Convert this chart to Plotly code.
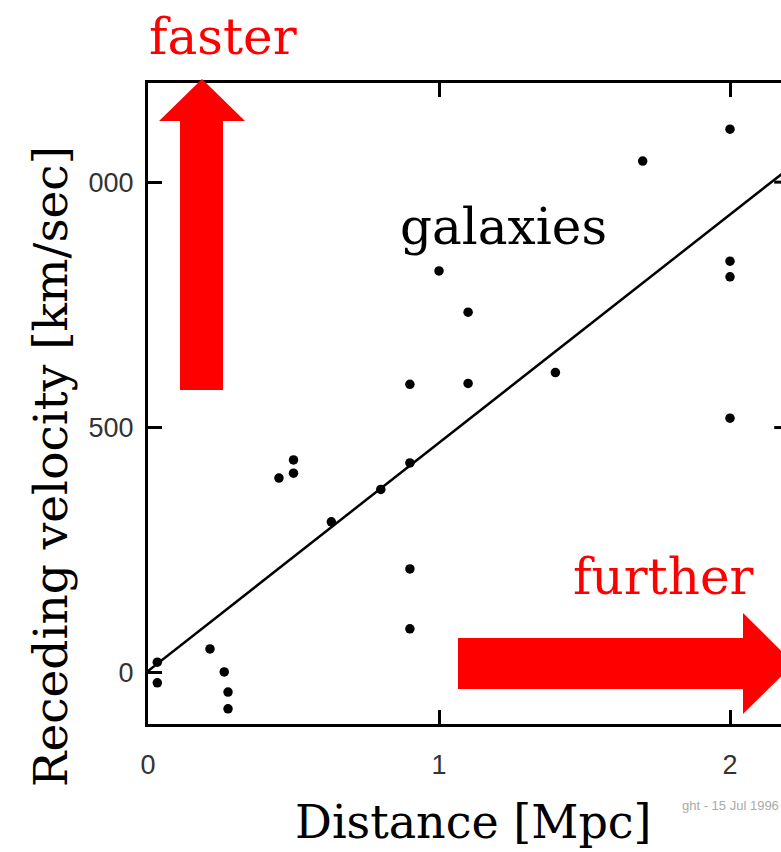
import plotly.graph_objects as go

# ---- data ----
distance_mpc = [0.032, 0.032, 0.213, 0.262, 0.275, 0.275, 0.45, 0.5, 0.5, 0.63, 0.8,
                0.9, 0.9, 0.9, 0.9, 1.0, 1.1, 1.1, 1.4, 1.7, 2.0, 2.0, 2.0, 2.0]
velocity_kms = [22, -20, 49, 2, -39, -73, 397, 434, 407, 308, 374,
                588, 428, 212, 90, 819, 735, 590, 612, 1043, 1108, 839, 807, 519]
fit_x = [0.0, 2.2]
fit_v = [4, 1027]
x_tick_vals = [0, 1, 2]
x_tick_text = ["0", "1", "2"]
y_tick_vals = [0, 500, 1000]
y_tick_text = ["0", "500", "000"]

# ---- geometry helpers (pixel -> paper) ----
W, H = 781, 852
ML, MT, MB = 148, 83, 128
PW, PH = W - ML, H - MT - MB


def px(x):
    return (x - ML) / PW


def py(y):
    return (H - MB - y) / PH


def poly(points):
    s = "M " + " L ".join(f"{px(a):.5f},{py(b):.5f}" for a, b in points) + " Z"
    return s


up_arrow = [(180, 390), (180, 121), (159, 121), (202, 79), (245, 121), (223, 121), (223, 390)]
right_arrow = [(458, 638), (743, 638), (743, 613), (794, 663.5), (743, 714), (743, 689), (458, 689)]

fig = go.Figure()
fig.add_trace(go.Scatter(x=fit_x, y=fit_v, mode="lines",
                         line=dict(color="black", width=2.5), hoverinfo="skip"))
fig.add_trace(go.Scatter(x=distance_mpc, y=velocity_kms, mode="markers",
                         marker=dict(color="black", size=9.5)))

serif = "DejaVu Serif"
tickfont = dict(family="Liberation Sans", size=27, color="#333")
fig.update_layout(
    width=W, height=H,
    margin=dict(l=ML, r=0, t=MT, b=MB, pad=0),
    paper_bgcolor="white", plot_bgcolor="white",
    showlegend=False,
    xaxis=dict(range=[0, PW / 291.0], showgrid=False, zeroline=False,
               showline=True, linecolor="black", linewidth=3, mirror="ticks",
               ticks="inside", ticklen=14, tickwidth=3, tickcolor="black",
               tickvals=x_tick_vals, ticktext=x_tick_text,
               tickfont=tickfont, ticklabelstandoff=15),
    yaxis=dict(range=[-104, 1202], showgrid=False, zeroline=False,
               showline=True, linecolor="black", linewidth=3,
               ticks="inside", ticklen=14, tickwidth=3, tickcolor="black",
               tickvals=y_tick_vals, ticktext=y_tick_text,
               tickfont=tickfont, ticklabelstandoff=6),
)

# right-side ticks (frame continues past the cropped edge)
for v in y_tick_vals[1:]:
    fig.add_shape(type="line", xref="x", yref="y", x0=2.2 - 14 / 291.0, x1=2.2,
                  y0=v, y1=v, line=dict(color="black", width=3))

fig.add_shape(type="path", xref="paper", yref="paper", path=poly(up_arrow),
              fillcolor="#ff0000", line=dict(width=0), layer="above")
fig.add_shape(type="path", xref="paper", yref="paper", path=poly(right_arrow),
              fillcolor="#ff0000", line=dict(width=0), layer="above")

ann = [
    dict(text="faster", x=px(223), y=py(37), font=dict(family=serif, size=50, color="red")),
    dict(text="further", x=px(663), y=py(577), font=dict(family=serif, size=50, color="red")),
    dict(text="galaxies", x=px(503), y=py(227), font=dict(family=serif, size=50, color="black")),
    dict(text="Distance [Mpc]", x=px(474), y=py(822), font=dict(family=serif, size=46, color="black")),
    dict(text="Receding velocity [km/sec]", x=px(50), y=py(467), textangle=-90,
         font=dict(family=serif, size=47, color="black")),
]
for a in ann:
    fig.add_annotation(xref="paper", yref="paper", showarrow=False,
                       xanchor="center", yanchor="middle", **a)
fig.add_annotation(xref="paper", yref="paper", showarrow=False, xanchor="left",
                   yanchor="middle", x=px(680), y=py(805), text="ght - 15 Jul 1996",
                   font=dict(family="Liberation Sans", size=13, color="#aaa"))

fig.write_html("out.html")
